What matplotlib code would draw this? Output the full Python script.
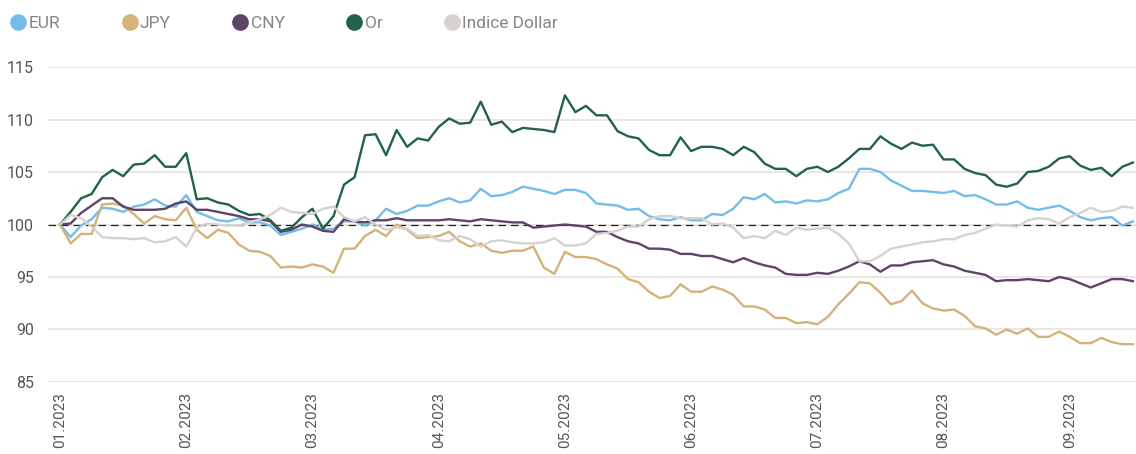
import numpy as np
import matplotlib
matplotlib.use("Agg")
import matplotlib.pyplot as plt
from matplotlib.lines import Line2D

plt.rcParams['font.family'] = ['Roboto', 'DejaVu Sans']

# month tick labels (one label every 12 samples)
months = ['01.2023', '02.2023', '03.2023', '04.2023', '05.2023',
          '06.2023', '07.2023', '08.2023', '09.2023']

eur = [100.0, 98.8, 99.9, 100.5, 101.6, 101.5, 101.2, 101.7, 101.9, 102.4,
       101.8, 101.7, 102.8, 101.2, 100.8, 100.4, 100.3, 100.6, 100.2, 100.2,
       99.9, 99.0, 99.3, 99.6, 100.0, 99.5, 99.6, 100.3, 100.3, 99.9,
       100.4, 101.5, 101.0, 101.3, 101.8, 101.8, 102.2, 102.5, 102.1, 102.3,
       103.4, 102.7, 102.8, 103.1, 103.6, 103.4, 103.2, 102.9, 103.3, 103.3,
       103.0, 102.0, 101.9, 101.8, 101.4, 101.5, 100.8, 100.5, 100.4, 100.7,
       100.4, 100.4, 101.0, 100.9, 101.5, 102.6, 102.4, 102.9, 102.1, 102.2,
       102.0, 102.3, 102.2, 102.4, 103.0, 103.4, 105.3, 105.3, 105.0, 104.2,
       103.7, 103.2, 103.2, 103.1, 103.0, 103.2, 102.7, 102.8, 102.4, 101.9,
       101.9, 102.2, 101.6, 101.4, 101.6, 101.8, 101.3, 100.7, 100.4, 100.6,
       100.7, 99.9, 100.3]

jpy = [100.0, 98.2, 99.1, 99.1, 101.9, 102.0, 101.8, 101.0, 100.1, 100.8,
       100.5, 100.4, 101.6, 99.5, 98.7, 99.5, 99.2, 98.1, 97.5, 97.4,
       97.0, 95.9, 96.0, 95.9, 96.2, 96.0, 95.4, 97.7, 97.7, 98.9,
       99.5, 98.9, 100.0, 99.5, 98.7, 98.8, 98.9, 99.3, 98.4, 97.9,
       98.2, 97.5, 97.3, 97.5, 97.5, 97.9, 95.9, 95.3, 97.4, 96.9,
       96.9, 96.7, 96.2, 95.8, 94.8, 94.5, 93.6, 93.0, 93.2, 94.3,
       93.6, 93.6, 94.1, 93.8, 93.3, 92.2, 92.2, 91.9, 91.1, 91.1,
       90.6, 90.7, 90.5, 91.2, 92.4, 93.4, 94.5, 94.4, 93.5, 92.4,
       92.7, 93.7, 92.5, 92.0, 91.8, 91.9, 91.3, 90.3, 90.1, 89.5,
       90.0, 89.6, 90.1, 89.3, 89.3, 89.8, 89.3, 88.7, 88.7, 89.2,
       88.8, 88.6, 88.6]

cny = [100.0, 100.1, 101.1, 101.8, 102.5, 102.5, 101.7, 101.4, 101.4, 101.4,
       101.5, 102.0, 102.2, 101.4, 101.4, 101.2, 101.0, 100.8, 100.5, 100.5,
       100.3, 99.3, 99.5, 100.0, 99.8, 99.4, 99.3, 100.5, 100.3, 100.2,
       100.4, 100.4, 100.6, 100.4, 100.4, 100.4, 100.4, 100.5, 100.4, 100.3,
       100.5, 100.4, 100.3, 100.2, 100.2, 99.7, 99.8, 99.9, 100.0, 99.9,
       99.8, 99.3, 99.3, 98.8, 98.4, 98.2, 97.7, 97.7, 97.6, 97.2,
       97.2, 97.0, 97.0, 96.7, 96.4, 96.8, 96.4, 96.1, 95.9, 95.3,
       95.2, 95.2, 95.4, 95.3, 95.6, 96.0, 96.5, 96.2, 95.5, 96.1,
       96.1, 96.4, 96.5, 96.6, 96.2, 96.0, 95.6, 95.4, 95.2, 94.6,
       94.7, 94.7, 94.8, 94.7, 94.6, 95.0, 94.8, 94.4, 94.0, 94.4,
       94.8, 94.8, 94.6]

gold = [100.0, 101.2, 102.5, 102.9, 104.5, 105.2, 104.6, 105.7, 105.8, 106.6,
        105.5, 105.5, 106.8, 102.4, 102.5, 102.1, 101.9, 101.3, 100.9, 101.0,
        100.4, 99.4, 99.7, 100.7, 101.5, 99.6, 100.8, 103.8, 104.5, 108.5,
        108.6, 106.6, 109.0, 107.4, 108.2, 108.0, 109.3, 110.1, 109.6, 109.7,
        111.7, 109.5, 109.8, 108.8, 109.2, 109.1, 109.0, 108.8, 112.3, 110.7,
        111.3, 110.4, 110.4, 108.9, 108.4, 108.2, 107.1, 106.6, 106.6, 108.3,
        107.0, 107.4, 107.4, 107.2, 106.6, 107.4, 106.9, 105.8, 105.3, 105.3,
        104.6, 105.3, 105.5, 105.0, 105.5, 106.3, 107.2, 107.2, 108.4, 107.7,
        107.2, 107.8, 107.5, 107.6, 106.2, 106.2, 105.3, 104.9, 104.7, 103.8,
        103.6, 103.9, 105.0, 105.1, 105.5, 106.3, 106.5, 105.6, 105.2, 105.4,
        104.6, 105.5, 105.9]

dxy = [100.0, 100.9, 100.6, 99.8, 98.8, 98.7, 98.7, 98.6, 98.7, 98.3,
       98.4, 98.8, 97.9, 99.7, 100.1, 100.0, 99.9, 99.9, 100.2, 100.5,
       100.9, 101.6, 101.2, 101.1, 101.0, 101.5, 101.7, 100.7, 100.3, 100.7,
       100.0, 99.5, 99.7, 99.6, 98.9, 99.0, 98.5, 98.4, 98.9, 98.6,
       97.9, 98.4, 98.5, 98.3, 98.2, 98.2, 98.3, 98.7, 98.0, 98.0,
       98.2, 99.1, 99.2, 99.4, 99.8, 99.8, 100.5, 100.8, 100.8, 100.6,
       100.6, 100.6, 100.0, 100.1, 99.7, 98.7, 98.9, 98.7, 99.4, 99.0,
       99.7, 99.5, 99.6, 99.7, 99.1, 98.2, 96.5, 96.5, 97.0, 97.7,
       97.9, 98.1, 98.3, 98.4, 98.6, 98.6, 99.0, 99.2, 99.6, 100.0,
       99.9, 99.8, 100.4, 100.6, 100.5, 100.1, 100.7, 101.1, 101.6, 101.2,
       101.3, 101.7, 101.6]

series = [('EUR', eur, '#74bde9'),
          ('JPY', jpy, '#d4b27a'),
          ('CNY', cny, '#5e4466'),
          ('Or', gold, '#22624a'),
          ('Indice Dollar', dxy, '#d6d2cd')]

fig = plt.figure(figsize=(11.36, 4.54), dpi=100)
ax = fig.add_axes([0.0423, 0.1586, 0.9577, 0.6938])

x = np.arange(len(eur))
for name, vals, col in series:
    ax.plot(x, vals, color=col, lw=1.7, label=name, solid_joinstyle='round')

ax.axhline(100, color='#222222', lw=0.9, ls=(0, (6, 4)), zorder=1)

ax.set_ylim(85, 115)
ax.set_yticks([85, 90, 95, 100, 105, 110, 115])
ax.set_xlim(-1.14, 102.3)
ax.set_xticks(np.arange(len(months)) * 12)
ax.set_xticklabels(months, rotation=90)

ax.grid(axis='y', color='#e6e3de', lw=1.2, zorder=0)
ax.set_axisbelow(True)
for s in ax.spines.values():
    s.set_visible(False)
ax.tick_params(axis='both', length=0, colors='#555555', labelsize=11.5)
ax.tick_params(axis='y', pad=10)
ax.tick_params(axis='x', pad=7, labelsize=11)

handles = [Line2D([], [], ls='none', marker='o', ms=11, color=c) for _, _, c in series]
fig.legend(handles, [n for n, _, _ in series], loc='upper left',
           bbox_to_anchor=(-0.004, 1.0), ncol=5, frameon=False,
           fontsize=12.5, labelcolor='#858585', handlelength=0.8,
           handletextpad=0.2, columnspacing=3.6)

fig.savefig('out.png', dpi=100)
